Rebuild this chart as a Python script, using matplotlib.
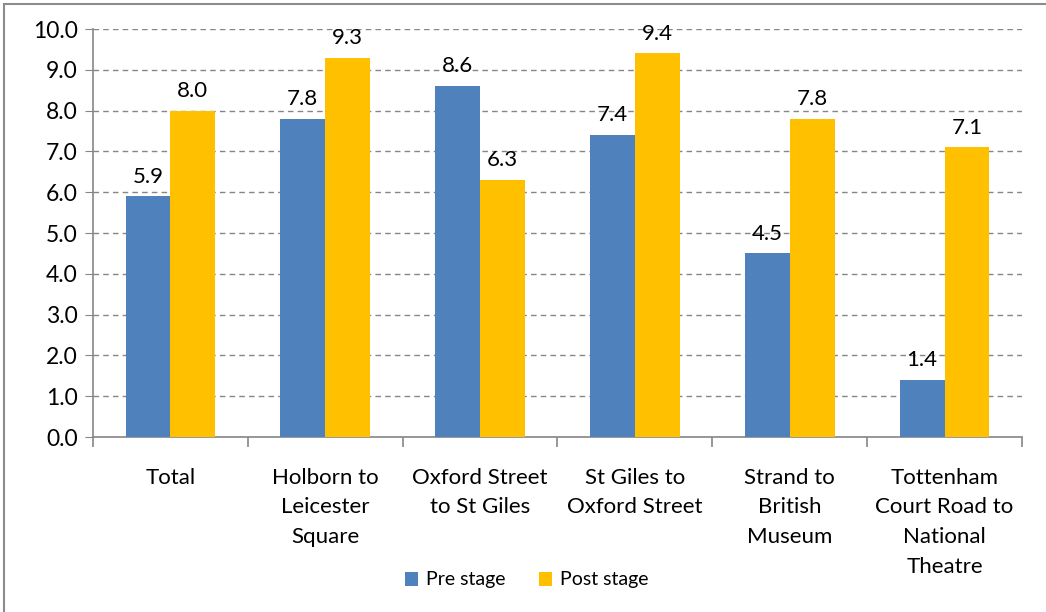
import numpy as np
import matplotlib
matplotlib.use("Agg")
import matplotlib.pyplot as plt
from matplotlib.patches import Rectangle

categories = ["Total", "Holborn to\nLeicester\nSquare", "Oxford Street\nto St Giles",
              "St Giles to\nOxford Street", "Strand to\nBritish\nMuseum",
              "Tottenham\nCourt Road to\nNational\nTheatre"]
pre_stage = [5.9, 7.8, 8.6, 7.4, 4.5, 1.4]
post_stage = [8.0, 9.3, 6.3, 9.4, 7.8, 7.1]
yticks = [0.0, 1.0, 2.0, 3.0, 4.0, 5.0, 6.0, 7.0, 8.0, 9.0, 10.0]

plt.rcParams['font.family'] = ['Lato', 'DejaVu Sans']

fig = plt.figure(figsize=(10.46, 6.12), dpi=100)
ax = fig.add_axes([93/1046, 1-437/612, (1022-93)/1046, (437-29)/612])

grey = "#868686"
blue = "#4F81BD"
gold = "#FFC000"
w = 0.29
x = np.arange(len(categories))

b1 = ax.bar(x - w/2, pre_stage, w, color=blue, label="Pre stage", zorder=3)
b2 = ax.bar(x + w/2, post_stage, w, color=gold, label="Post stage", zorder=3)

for bars in (b1, b2):
    for r in bars:
        ax.annotate("%.1f" % r.get_height(), (r.get_x() + r.get_width()/2, r.get_height()),
                    xytext=(0, 7), textcoords="offset points", ha="center", va="bottom",
                    fontsize=16)

ax.set_xlim(-0.5, len(categories) - 0.5)
ax.set_ylim(0, 10)
ax.set_yticks(yticks)
ax.set_yticklabels(["%.1f" % t for t in yticks], fontsize=16.5)
ax.yaxis.grid(True, linestyle=(0, (4, 3)), color=grey, linewidth=1.0, zorder=0)
ax.tick_params(axis="y", length=6, color=grey, pad=5)

ax.set_xticks(x)
ax.set_xticklabels(categories, fontsize=16, linespacing=1.62, va="top")
ax.tick_params(axis="x", which="major", length=0, pad=22)
ax.set_xticks(np.arange(-0.5, len(categories)), minor=True)
ax.tick_params(axis="x", which="minor", length=7, color=grey, width=1.2)

for s in ("top", "right"):
    ax.spines[s].set_visible(False)
for s in ("left", "bottom"):
    ax.spines[s].set_color(grey)
    ax.spines[s].set_linewidth(1.2)

fig.legend(handles=[b1, b2], loc="center", bbox_to_anchor=(527/1046, 1-580/612), ncol=2,
           frameon=False, fontsize=14, handlelength=0.65, handleheight=0.7,
           handletextpad=0.45, columnspacing=1.7)

# outer chart frame (only top and left edges visible)
fig.patches.append(Rectangle((4/1046, -0.1), 1.2, 1 - 4/612 + 0.1, transform=fig.transFigure,
                             fill=False, edgecolor="#8c8c8c", linewidth=1.5))

fig.savefig("out.png", dpi=100)
